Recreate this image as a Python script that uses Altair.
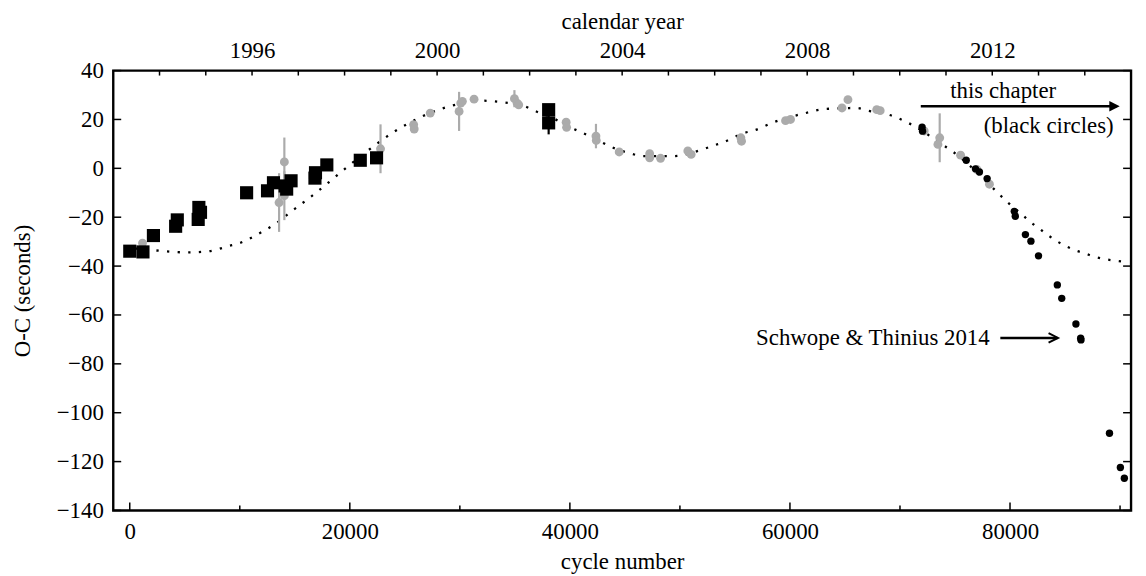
import altair as alt
import pandas as pd

FONT = "Liberation Serif"
FS = 23
W, H = 1025, 443
X_DOM = [-1500, 91000]
Y_DOM = [-140, 40]
YR_DOM = [1993, 2015]

# ---- black squares (earlier data) ----
sq_cycle = [0, 1200, 2150, 4170, 4320, 6220, 6280, 6430, 10620, 12520, 13060,
            14120, 14260, 14660, 16830, 16880, 17910, 20950, 22430, 38070, 38070]
sq_oc = [-33.9, -34.2, -27.5, -23.7, -21.1, -20.9, -16.0, -18.0, -10.0, -9.2, -5.9,
         -7.2, -8.5, -5.1, -4.0, -1.8, 1.4, 3.3, 4.3, 24.0, 18.6]
sq_err = [0, 0, 0, 0, 0, 0, 0, 0, 0, 0, 0,
          0, 0, 0, 0, 0, 0, 0, 0, 0, 4.7]

# ---- grey circles (literature) ----
gr_cycle = [1160, 13570, 14050, 14050, 22790, 25800, 25850, 27310, 29930, 30080,
            30230, 31290, 34960, 35200, 35350, 39660, 39700, 42370, 42400, 44480,
            47250, 47250, 48240, 50720, 51020, 55540, 55600, 59600, 60050, 64730,
            65270, 67890, 68200, 72200, 73610, 73450, 75510, 77000, 78130]
gr_oc = [-30.6, -14.0, 2.6, -11.2, 8.0, 17.9, 16.1, 22.6, 23.3, 26.7,
         27.4, 28.3, 28.5, 26.7, 26.0, 18.9, 16.8, 13.2, 11.4, 6.7,
         6.0, 4.3, 4.1, 7.1, 5.7, 12.5, 11.1, 19.5, 20.0, 24.7,
         28.1, 24.0, 23.6, 15.3, 12.5, 9.8, 5.4, -0.5, -6.5]
gr_err = [0, 12, 10, 10, 10, 0, 0, 0, 8, 0,
          0, 0, 3.5, 0, 0, 0, 0, 5, 0, 0,
          0, 0, 0, 0, 0, 0, 0, 0, 0, 0,
          0, 0, 0, 0, 10, 0, 0, 0, 0]

# ---- black circles (this chapter) ----
bc_cycle = [72010, 72050, 76020, 76860, 77220, 77920, 80390, 80480, 81400, 81900,
            82590, 84300, 84700, 85990, 86420, 86450, 89040, 90030, 90390]
bc_oc = [16.8, 15.2, 3.3, -0.2, -1.5, -4.2, -17.6, -19.6, -27.1, -29.8,
         -35.8, -47.7, -53.2, -63.7, -69.5, -70.2, -108.4, -122.4, -126.8]

# ---- dotted model curve ----
cv_cycle = [500, 2370, 5220, 7190, 8990, 9960, 11700, 13360, 14870, 16380, 17880,
            19390, 21650, 24000, 26460, 28270, 29240, 32040, 33100, 34000, 35810,
            36770, 38520, 40260, 41170, 42880, 43790, 45590, 46590, 49360, 52220,
            53120, 54030, 55840, 56740, 58550, 61410, 63220, 66080, 67080, 68940,
            70750, 74060, 74810, 79000, 79730, 81140, 81900, 82740, 83400, 84250,
            85060, 85970, 86870, 87770, 88820, 89790, 90630]
cv_oc = [-32.8, -33.6, -34.4, -33.9, -31.8, -30.6, -26.8, -22.3, -17.0, -11.9, -6.5,
         -0.8, 7.3, 14.9, 21.0, 24.3, 25.6, 27.7, 27.4, 27.0, 25.6,
         23.6, 20.4, 16.3, 14.5, 10.7, 8.7, 6.0, 5.0, 5.0, 8.0,
         9.4, 10.8, 14.5, 15.5, 18.9, 22.6, 24.3, 24.7, 23.6, 22.0,
         18.6, 9.1, 6.8, -10.5, -13.7, -19.1, -22.1, -24.9, -27.2, -29.8,
         -31.8, -33.6, -34.9, -36.3, -37.3, -37.9, -38.4]

# ---- axes ----
x_labels = [0, 20000, 40000, 60000, 80000]
x_minor = [10000, 30000, 50000, 70000, 90000]
y_labels = [-140, -120, -100, -80, -60, -40, -20, 0, 20, 40]
yr_labels = [1996, 2000, 2004, 2008, 2012]
yr_ticks = list(range(1994, 2015))

# ---- annotations ----
ann_text = ["this chapter", "(black circles)", "Schwope & Thinius 2014"]
ann_x = [79380, 89420, 78150]
ann_y = [28.7, 14.5, -72.2]
ann_align = ["center", "right", "right"]
arr1 = {"x": 71890, "x2": 89700, "tip": 89970, "y": 25.4}
arr2 = {"x": 79120, "x2": 84300, "tip": 84360, "y": -69.4}

sq = pd.DataFrame({"c": sq_cycle, "oc": sq_oc, "err": sq_err})
sq["lo"] = sq.oc - sq.err
sq["hi"] = sq.oc + sq.err
gr = pd.DataFrame({"c": gr_cycle, "oc": gr_oc, "err": gr_err})
gr["lo"] = gr.oc - gr.err
gr["hi"] = gr.oc + gr.err
bc = pd.DataFrame({"c": bc_cycle, "oc": bc_oc})
cv = pd.DataFrame({"c": cv_cycle, "oc": cv_oc})

xs = alt.Scale(domain=X_DOM, nice=False, zero=False)
ys = alt.Scale(domain=Y_DOM, nice=False, zero=False)
GREY = "#ababab"

ax_common = dict(labelFont=FONT, titleFont=FONT, labelFontSize=FS, titleFontSize=FS,
                 labelColor="black", titleColor="black", titleFontWeight="normal",
                 ticks=False, domain=False, grid=False, labelOverlap=False,
                 labelFlush=False, format="d")

x_axis = alt.Axis(orient="bottom", values=x_labels, title="cycle number",
                  labelPadding=10, titlePadding=7, **ax_common)
y_axis = alt.Axis(orient="left", values=y_labels, title="O-C (seconds)",
                  labelPadding=10, titlePadding=22, **ax_common)

X = lambda f: alt.X(f, type="quantitative", scale=xs, axis=x_axis)
Y = lambda f: alt.Y(f, type="quantitative", scale=ys, axis=y_axis)

curve = alt.Chart(cv).mark_line(color="black", strokeWidth=2.3, strokeDash=[2.3, 8.4],
                                interpolate="monotone").encode(
    x=X("c"), y=Y("oc"))

gr_bars = alt.Chart(gr[gr.err > 0]).mark_rule(color=GREY, strokeWidth=2.2).encode(
    x=X("c"), y=Y("lo"), y2="hi")
gr_pts = alt.Chart(gr).mark_point(shape="circle", filled=True, color=GREY, opacity=1,
                                   size=80).encode(x=X("c"), y=Y("oc"))
sq_bars = alt.Chart(sq[sq.err > 0]).mark_rule(color="black", strokeWidth=2.2).encode(
    x=X("c"), y=Y("lo"), y2="hi")
sq_pts = alt.Chart(sq).mark_point(shape="square", filled=True, color="black", opacity=1,
                                   size=175).encode(x=X("c"), y=Y("oc"))
bc_pts = alt.Chart(bc).mark_point(shape="circle", filled=True, color="black", opacity=1,
                                   size=55).encode(x=X("c"), y=Y("oc"))

# inward ticks
xt_major = alt.Chart(pd.DataFrame({"c": x_labels})).mark_rule(color="black", strokeWidth=1.5).encode(
    x=X("c"), y=alt.value(H), y2=alt.value(H - 8))
xt_minor = alt.Chart(pd.DataFrame({"c": x_minor})).mark_rule(color="black", strokeWidth=1.5).encode(
    x=X("c"), y=alt.value(H), y2=alt.value(H - 5))
yt_left = alt.Chart(pd.DataFrame({"oc": y_labels})).mark_rule(color="black", strokeWidth=1.5).encode(
    y=Y("oc"), x=alt.value(0), x2=alt.value(8))
yt_right = alt.Chart(pd.DataFrame({"oc": y_labels})).mark_rule(color="black", strokeWidth=1.5).encode(
    y=Y("oc"), x=alt.value(W), x2=alt.value(W - 8))

ann = pd.DataFrame({"t": ann_text, "c": ann_x, "oc": ann_y})
texts = []
for i in range(len(ann_text)):
    texts.append(alt.Chart(ann.iloc[[i]]).mark_text(font=FONT, fontSize=FS, color="black",
                                                     align=ann_align[i], baseline="alphabetic").encode(
        x=X("c"), y=Y("oc"), text="t:N"))

arrows = pd.DataFrame([arr1, arr2]).rename(columns={"x": "c", "y": "oc"})
arr_lines = alt.Chart(arrows).mark_rule(color="black", strokeWidth=2.4).encode(
    x=X("c"), x2="x2", y=Y("oc"))
head1 = alt.Chart(arrows.iloc[[0]]).mark_point(shape="M-2,-1L0,0L-2,1Z", filled=True,
                                               color="black", opacity=1, size=110).encode(
    x=X("tip"), y=Y("oc"))
head2 = alt.Chart(arrows.iloc[[1]]).mark_point(shape="M-2,-1L0,0L-2,1", filled=False,
                                               color="black", opacity=1, size=90,
                                               strokeWidth=2).encode(
    x=X("tip"), y=Y("oc"))

frame = alt.Chart(pd.DataFrame({"k": [0]})).mark_rect(fill=None, stroke="black", strokeWidth=2.4).encode(
    x=alt.value(0), x2=alt.value(W), y=alt.value(0), y2=alt.value(H))

main = alt.layer(curve, gr_bars, gr_pts, sq_bars, sq_pts, bc_pts,
                 xt_major, xt_minor, yt_left, yt_right,
                 arr_lines, head1, head2, *texts, frame)

top_axis = alt.Axis(orient="top", values=yr_labels, title="calendar year",
                    labelPadding=8, titlePadding=6, **ax_common)
top = alt.Chart(pd.DataFrame({"yr": yr_ticks})).mark_rule(color="black", strokeWidth=1.5).encode(
    x=alt.X("yr:Q", scale=alt.Scale(domain=YR_DOM, nice=False, zero=False), axis=top_axis),
    y=alt.value(0), y2=alt.value(5))

chart = alt.layer(main, top).resolve_scale(x="independent").properties(
    width=W, height=H, autosize="none",
    padding={"left": 106, "top": 61, "right": 7, "bottom": 68},
).configure(background="white").configure_view(stroke=None)

chart.save("out.html", embed_options={"renderer": "svg", "actions": False})
